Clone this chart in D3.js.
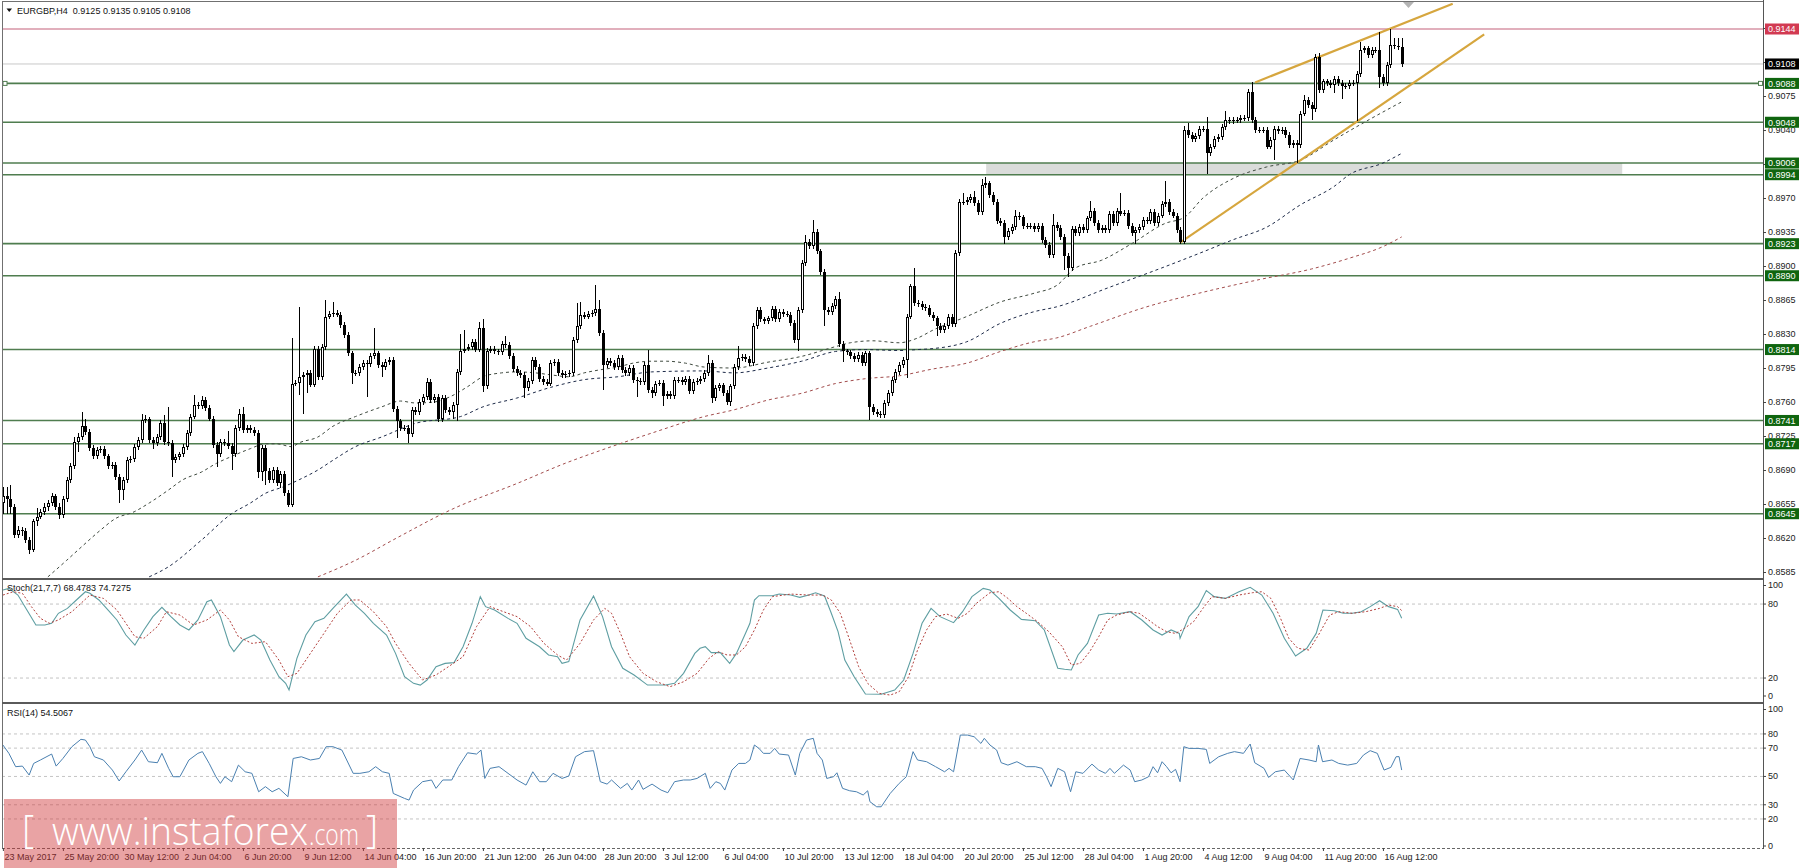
<!DOCTYPE html>
<html><head><meta charset="utf-8">
<script src="https://cdn.jsdelivr.net/npm/d3@7"></script>
<style>
html,body{margin:0;padding:0;background:#fff;overflow:hidden;}
svg{display:block;font-family:"Liberation Sans",Arial,sans-serif;}
</style></head><body>
<svg id="chart" width="1800" height="868"></svg>
<script>
// ===== DATA (prices in pips: 8663 = 0.8663) =====
const symbolTitle = "EURGBP,H4  0.9125 0.9135 0.9105 0.9108";
const firstOpen = 8656;
const closes = [
8663,8660,8652,8623,8628,8627,8618,8608,8637,8642,
8647,8652,8656,8663,8652,8644,8660,8680,8694,8719,
8724,8735,8729,8713,8704,8711,8712,8704,8694,8695,
8683,8669,8680,8700,8701,8714,8721,8741,8742,8721,
8718,8724,8738,8719,8718,8700,8703,8706,8714,8728,
8745,8757,8756,8762,8754,8743,8716,8706,8719,8718,
8715,8706,8733,8748,8731,8733,8731,8728,8688,8713,
8689,8680,8690,8677,8686,8666,8654,8779,8780,8786,
8788,8790,8778,8815,8786,8817,8848,8851,8852,8850,
8839,8829,8810,8790,
8790,8796,8800,8799,8807,8810,8798,8796,8801,8803,
8753,8740,8733,8733,8727,8752,8750,8760,8765,8781,
8762,8765,8742,8764,8752,8750,8757,8791,8813,8815,
8817,8822,8814,8836,8776,8813,8815,8812,8811,8820,
8819,8807,8794,8790,8788,8774,8782,8803,8796,8784,
8781,8779,8800,8801,8790,8788,8789,8790,8824,8838,
8850,8848,8851,8852,8856,8831,8798,8802,8800,8796,
8805,8793,8790,8795,8783,8782,8781,8798,8772,8769,
8779,8780,8766,8768,8766,8783,8783,8781,8784,8771,
8781,8782,8784,8790,
8800,8764,8774,8777,8769,8760,8776,8796,8805,8806,
8804,8800,8838,8855,8845,8843,8846,8856,8845,8853,
8851,8850,8841,8824,8855,8903,8925,8921,8935,8915,
8894,8855,8853,8859,8866,8820,8812,8811,8807,8804,
8808,8800,8810,8755,8750,8748,8747,8759,8769,8783,
8791,8798,8803,8848,8879,8862,8861,8858,8857,8850,
8846,8838,8834,8838,8848,8840,8913,8966,8966,8968,
8971,8965,8956,8983,8985,8973,8966,8946,8944,8930,
8936,8940,8951,8950,8941,8941,8941,8938,8941,8927,
8922,8911,
8942,8939,8930,8910,8898,8938,8934,8940,8937,8949,
8957,8944,8937,8939,8937,8954,8944,8957,8954,8955,
8941,8934,8937,8940,8947,8946,8956,8944,8952,8964,
8966,8956,8952,8937,8925,9040,9035,9031,9034,9041,
9041,9016,9023,9031,9033,9043,9050,9049,9050,9050,
9052,9052,9079,9050,9040,9040,9040,9023,9030,9041,
9039,9040,9035,9025,9027,9025,9057,9071,9066,9062,
9115,9081,9090,9088,9086,9093,9088,9085,9085,9088,
9088,9098,9122,9124,9117,9122,9122,9095,9088,9107,
9128,9126,9125,9108];
const wickUp = [
10,10,15,3,4,3,3,3,3,9, 3,4,3,3,2,4,3,3,3,5, 4,15,8,3,3,3,3,3,2,3, 3,3,3,3,3,3,3,7,5,3,
3,3,3,9,36,3,3,3,3,3, 3,10,3,4,3,3,3,3,3,3, 12,3,3,5,7,3,3,3,3,3, 3,3,3,3,3,3,3,47,3,72,
3,3,3,3,3,3,17,3,11,3, 3,3,3,3,
3,3,3,3,3,26,3,3,3,3, 3,3,3,3,3,3,3,3,3,4, 3,3,3,3,3,3,3,3,17,19, 3,3,3,6,9,3,3,3,3,3,
8,3,3,3,3,3,3,3,3,3, 3,3,3,3,3,3,3,3,3,24, 13,3,3,3,24,9,3,3,3,3, 3,3,3,3,3,3,3,3,16,3,
3,3,3,3,3,3,3,3,3,3, 3,3,3,3,
8,3,3,3,3,3,3,3,13,3, 3,3,3,3,3,3,3,3,3,3, 3,3,3,3,3,3,7,3,12,3, 3,3,3,3,3,7,3,3,3,3,
3,3,3,3,3,3,3,3,3,3, 3,3,3,3,3,19,3,3,3,3, 3,3,3,3,3,3,3,3,9,3, 3,6,3,7,7,3,3,3,3,3,
3,3,7,5,3,3,3,3,3,3, 3,3,
12,3,3,3,3,3,3,3,3,3, 10,3,3,3,3,3,3,3,18,3, 3,3,3,3,3,3,3,3,3,3, 22,3,3,3,3,4,7,3,3,3,
3,12,3,3,3,3,10,3,3,3, 3,3,3,10,3,3,3,3,3,3, 3,3,3,3,3,3,3,5,3,3, 3,4,3,3,3,3,3,3,3,3,
3,3,9,3,3,3,3,19,3,3, 16,7,9,10];
const wickDn = [
11,15,7,3,3,5,3,4,2,5, 2,3,4,3,3,4,3,3,3,3, 10,3,3,3,3,3,3,3,3,3, 3,13,10,3,3,3,3,3,3,3,
6,3,3,3,3,17,3,3,3,3, 3,3,3,3,3,3,3,13,3,3, 3,16,3,3,3,3,3,3,6,9, 14,3,3,3,6,3,2,2,3,13,
38,19,3,3,3,3,3,3,3,3, 3,3,3,11,
3,3,3,34,3,3,3,10,3,3, 3,17,3,3,9,3,3,3,3,3, 3,3,3,3,3,3,8,17,3,3, 3,3,3,3,6,3,3,3,3,3,
3,3,3,3,3,10,3,3,3,3, 3,3,3,3,3,3,3,3,3,3, 3,3,3,3,3,3,26,3,3,3, 3,3,3,3,3,17,3,3,3,5,
3,3,10,3,3,3,3,3,3,3, 3,3,3,3,
3,5,3,3,3,3,4,3,3,3, 3,3,3,3,3,3,3,3,3,3, 3,3,3,3,11,3,3,3,3,3, 3,17,3,3,3,3,11,3,3,3,
3,3,3,14,3,3,3,3,3,3, 3,3,3,18,3,3,3,3,3,3, 3,10,3,3,3,3,3,3,3,3, 3,3,3,3,3,3,3,3,3,7,
3,3,3,3,3,3,3,3,3,3, 3,3,
3,3,3,14,9,3,3,3,3,3, 3,3,3,3,3,3,3,3,3,3, 3,3,11,3,3,3,3,3,3,3, 3,3,3,3,2,2,3,3,3,3,
3,21,3,3,3,3,3,3,3,3, 3,3,3,3,3,3,3,3,3,21, 3,3,3,3,3,19,3,3,3,12, 3,3,3,3,3,8,3,13,3,3,
3,39,3,3,3,3,3,12,3,3, 3,3,3,3];

// moving averages: [bar, pips]
const maFast = [[12,8580],[17,8597],[21,8611],[26,8628],[30,8640],[35,8647],[39,8656],[44,8669],[48,8680],[53,8688],
[57,8697],[61,8704],[66,8712],[70,8717],[73,8717],[77,8714],[79,8718],[84,8724],[88,8735],[94,8745],
[101,8755],[106,8761],[110,8759],[115,8760],[119,8765],[124,8776],[128,8786],[133,8790],[137,8791],[142,8790],
[146,8788],[151,8786],[155,8790],[159,8793],[164,8796],[168,8800],[173,8802],[177,8802],[182,8800],[187,8796],
[195,8795],[204,8801],[213,8807],[222,8817],[226,8821],[232,8823],[239,8821],[244,8826],[248,8834],[257,8848],
[266,8863],[275,8872],[281,8880],[286,8898],[293,8906],[301,8923],[310,8944],[315,8950],[320,8970],[328,8990],
[337,9002],[346,9009],[355,9030],[364,9050],[373,9069]];
const maMid = [[39,8580],[44,8590],[53,8618],[61,8645],[66,8656],[70,8666],[75,8673],[79,8680],[84,8690],[88,8700],
[94,8714],[101,8724],[110,8738],[122,8745],[128,8755],[137,8764],[146,8775],[155,8783],[164,8786],[173,8791],
[187,8792],[195,8790],[204,8795],[213,8802],[222,8812],[230,8814],[239,8813],[244,8814],[248,8815],[257,8822],
[266,8841],[275,8853],[281,8858],[295,8878],[309,8898],[319,8913],[328,8927],[337,8940],[346,8963],[355,8982],
[359,8994],[368,9006],[373,9016]];
const maSlow = [[84,8580],[94,8597],[105,8620],[120,8650],[137,8676],[150,8697],[160,8711],[173,8728],[187,8745],[195,8752],
[204,8762],[213,8769],[222,8779],[230,8784],[239,8787],[248,8794],[257,8800],[266,8812],[275,8822],[281,8826],
[290,8838],[305,8858],[320,8873],[335,8886],[349,8897],[359,8908],[368,8920],[373,8930]];

const stochK = [[0,91.4],[1.6,92.7],[4,87.3],[6.4,75.2],[8.8,63],[11.2,63],[13,64.4],[14.8,72.5],[17.2,76.5],[19.6,83.3],[22,90],[23.2,88.7],[25.6,83.3],[28,75.2],[30.4,67.1],[32.8,54.9],[35.2,46.8],[37.6,59],[40,69.8],[42.4,77.3],[44.8,69.8],[47.2,63],[49.6,59],[52,67.1],[54.4,81.9],[55.6,83.3],[58,69.8],[60.4,46.8],[61.6,41.4],[64,50.8],[67,54.9],[68.8,50.8],[71.2,34.6],[73.6,21.1],[75.4,15.7],[76.3,10.3],[78.4,36],[80.8,54.9],[83.2,65.7],[85.6,68.4],[88,76.5],[91.6,88.1],[94,79.2],[96.4,72.5],[98.8,64.4],[102.3,54.9],[104.7,40],[107.1,21.1],[109.5,15.7],[111.3,14.3],[113.1,18.4],[115.5,29.2],[117.9,31.9],[120.3,32.5],[122.7,45.4],[125.1,64.4],[127.3,86],[128.7,77.9],[131.1,75.2],[134.7,68.4],[137.1,64.4],[139.5,52.2],[143.1,45.4],[145.5,38.7],[147.9,37.3],[149.1,31.9],[150.9,33.3],[153.9,67.1],[157.5,86.5],[159.9,69.8],[162.3,45.4],[165.3,27.9],[168.3,22.5],[171.9,14.3],[174.3,14.3],[176.7,14.3],[179.1,15.7],[181.5,23.8],[184.5,40],
[185.9,44.1],[187.3,45.4],[188.9,40.6],[191.3,40.6],[193.8,31.9],[195.6,40],[198,56.2],[199.2,64.4],[200.4,83.3],[201.6,86.8],[205.2,86.8],[207,88.1],[210.1,87.3],[212.5,85.4],[214.9,87.3],[216.7,89.2],[219.1,86.5],[220.9,72.5],[222.7,57.6],[224.5,34.6],[227,21.1],[230,7],[234.2,6.8],[237.8,10.3],[240.2,18.4],[242.7,40],[245.1,64.4],[247.5,76.5],[249.9,69.8],[253.5,64.9],[255.9,73.8],[258.4,86],[261.4,92.7],[263.2,91.4],[265.6,84.6],[268.6,75.2],[271.6,67.6],[275.3,66.5],[277.7,59],[281.3,27.9],[283.1,27.1],[284.9,26.5],[286.7,38.7],[289.2,48.1],[292.2,71.1],[294.6,72.5],[297,71.9],[300.6,73.8],[303.7,67.1],[306.7,59],[309.1,54.9],[311.5,59],[313.7,56.2],[313.9,52.2],[316.3,69.8],[318.7,77.9],[320.9,90.9],[323,86],[326,84.6],[329.6,90],[332.6,93.6],[335.7,87.3],[338.7,72.5],[341.7,52.2],[344.7,37.9],[347.7,44.1],[350.2,56.2],[352,75.2],[355,74.6],[357.4,72.5],[359.8,72.5],[362.2,73.8],[364.6,77.9],[367.1,82.7],[369.5,77.9],[371.9,75.7],[373,68.48]];
const stochD = [[0,87.3],[2.8,90],[5.2,88.7],[7.6,77.9],[10,68.4],[12.4,64.4],[14.8,67.1],[18.4,73.8],[23.2,87.3],[26.8,84.6],[30.4,75.2],[32.8,64.4],[35.2,53.5],[37.6,52.2],[41.2,61.7],[43.6,73.8],[47.2,71.1],[50.8,63],[54.4,67.1],[58,75.2],[60.4,67.1],[62.8,53.5],[66.4,48.1],[70,49.5],[73.6,34.6],[76,21.1],[78.4,23.8],[82,40],[85.6,56.2],[89.2,72.5],[92.8,83.3],[95.2,83.3],[98.8,73.8],[102.3,61.7],[104.7,48.1],[108.3,31.9],[111.9,18.4],[115.5,22.5],[119.1,29.8],[122.7,37.3],[126.3,61.7],[129.9,77.9],[133.5,73.8],[137.1,69.8],[140.7,61.7],[144.3,48.1],[147.9,38.7],[150.3,34.6],[153.9,48.1],[157.5,67.1],[160.5,76.5],[162.3,72.5],[164.7,56.2],[167.1,37.3],[170.7,23.8],[174.3,17],[177.9,13],[181.5,17],[185.1,23.8],
[188.3,36],[190.7,41.4],[193.1,38.7],[195.6,38.7],[198,45.4],[200.4,59],[202.8,75.2],[205.2,86],[210.1,88.1],[214.9,87.3],[218.5,87.3],[220.9,83.3],[223.3,72.5],[225.8,50.8],[228.2,29.2],[230.6,15.7],[233.6,7.6],[236.6,6.2],[239,8.9],[241.5,21.1],[243.9,42.7],[246.3,59],[248.7,69.8],[251.7,71.9],[254.7,68.4],[257.2,72.5],[259.6,80.6],[263.2,89.2],[265.6,90],[268,84.6],[270.4,77.9],[272.9,72.5],[275.9,65.7],[278.9,57.6],[282.5,45.4],[284.9,30.6],[287.3,31.9],[289.8,41.4],[292.2,53.5],[294.6,67.1],[297,71.1],[300.6,73.8],[303,72.5],[305.5,67.1],[307.9,61.7],[310.3,57.6],[312.7,56.2],[315.1,60.3],[317.5,65.7],[320,76.5],[322.4,86],[326,84.6],[329.6,87.3],[333.2,89.2],[335.7,90],[338.1,84.6],[340.5,69.8],[342.9,52.2],[345.3,44.1],[348.3,42.7],[350.8,54.9],[353.8,71.1],[356.2,73.8],[359.8,72.5],[363.4,73.8],[367.1,76.5],[369.5,79.2],[371.9,77.9],[373,74.73]];
const rsi = [[0,72.2],[1.6,66.3],[3.4,56.9],[5.2,57.3],[7,51],[8.2,59.2],[10,61.6],[13,65.8],[14.2,57.3],[16,62.7],[18.4,71],[20.8,76.2],[22,75.7],[23.2,71],[24.4,63.9],[26.8,61.6],[29.2,54.5],[31,46.8],[32.8,53.3],[35.2,61.6],[37,68.6],[38.8,60.4],[41.2,59.7],[42.4,66.3],[44.2,55.7],[45.4,49.8],[47.2,49.8],[49.6,61.6],[52,66.3],[53.2,67.5],[55,59.2],[56.8,49.8],[58,45.1],[59.2,49.8],[61,46.3],[62.8,58],[64.6,53.3],[66.4,52.2],[68.2,39.2],[70,42.8],[71.8,39.2],[73.6,41.6],[76,35.7],[77.4,62.7],[79.6,63.9],[82,61.6],[84.4,62.7],[86.2,71],[88,71],[90.4,68.6],[93.4,52.2],[95.2,52.2],[97.6,53.3],[99.4,56.9],[101.2,53.3],[103,52.2],[104.1,38],[107.1,34.5],[108.3,33.3],[109.5,40.4],[111.9,46.3],[114.3,47.5],[115.5,41.6],[117.3,47.5],[119.7,47.5],[121.5,56.9],[123.9,66.7],[126.3,65.8],[127.5,68.6],[128.5,48.6],[129.9,55.7],[132.3,56.9],[134.7,52.2],[137.1,47.5],[139.5,43.9],[141.3,53.3],[143.1,46.3],[144.9,46.3],[146.7,52.2],[149.1,48.6],[150.9,50.3],[152.7,63.9],[155.1,67.5],[157.5,68.2],[159.3,46.3],[161.1,44.6],[162.3,47.5],[164.7,41.6],[166.5,45.1],[167.7,40.4],[169.5,47.5],[170.7,40.9],[173.1,44.6],[175.5,40.4],[177.3,38.5],[179.1,46.3],[181.5,47.5],[183.3,47.5],[185.1,48.6],
[187.3,52.2],[188.6,41.6],[190.1,46.3],[191.3,45.1],[192.5,40.4],[194.4,54.5],[196.2,59.2],[198,59.2],[199.2,61.6],[200.4,72.2],[201.6,69.8],[202.8,66.3],[204.6,66.3],[205.8,69.8],[207,65.8],[209.5,65.1],[211.3,51],[212.5,66.3],[214.3,75.7],[216.1,76.9],[217.1,66.3],[218.5,61.6],[219.7,48.6],[221.5,49.8],[222.4,52.6],[223.9,41.6],[225.8,39.9],[227.6,39.2],[229.4,36.9],[230.6,39.9],[231.2,32.2],[233,28.6],[234.2,28.6],[236.6,38],[239,45.1],[240.9,49.8],[242.7,67.5],[243.9,61.6],[246.3,60.4],[248.7,56.9],[251.1,53.3],[252.3,55.7],[253.5,53.3],[255.3,79.2],[257.2,79.2],[259,78],[260.8,73.3],[261.7,76.9],[263.2,72.2],[265,68.6],[266.2,59.7],[268,58],[270.4,60.4],[272.9,56.9],[275.3,56.9],[277.1,55.7],[278.3,49.8],[279.5,42.8],[281.3,55.7],[283.1,53.3],[284.7,39.2],[286.1,53.3],[288,52.2],[290.4,58.7],[292.2,54.5],[294,52.2],[295.2,55.7],[296.4,52.2],[298.8,58],[300.6,54.5],[301.8,46.3],[303.7,47.5],[305.5,49.8],[306.7,56.9],[307.9,52.6],[309.1,60.4],[310.3,56.9],[311.5,52.6],[312.7,55],[313.9,46.3],[314.9,71],[316.3,69.8],[318.7,69.8],[320.9,69.1],[321.8,59.2],[324.2,63.9],[326.6,66.3],[328.4,67.5],[330.8,66.3],[332.6,72.9],[333.8,59.7],[336.3,55.7],[337.5,49.3],[339.3,53.3],[341.7,54.5],[344.1,47.5],[345.9,62.7],[348.3,61.6],[350.2,60.4],[350.8,72.2],[351.9,60.4],[354.4,61.6],[356.2,59.2],[358.6,58],[361,59.2],[362.8,65.1],[364.6,68.2],[366.5,66.3],[368.3,54.5],[370.1,56.4],[371.5,63.9],[372.3,64],[373,54.51]];

const xLabelBars = [0,16,32,48,64,80,96,112,128,144,160,176,192,208,224,240,256,272,288,304,320,336,352,368];
const xLabels = ["23 May 2017","25 May 20:00","30 May 12:00","2 Jun 04:00","6 Jun 20:00","9 Jun 12:00","14 Jun 04:00","16 Jun 20:00","21 Jun 12:00","26 Jun 04:00","28 Jun 20:00","3 Jul 12:00","6 Jul 04:00","10 Jul 20:00","13 Jul 12:00","18 Jul 04:00","20 Jul 20:00","25 Jul 12:00","28 Jul 04:00","1 Aug 20:00","4 Aug 12:00","9 Aug 04:00","11 Aug 20:00","16 Aug 12:00"];
const priceTicks = [0.8585,0.8620,0.8655,0.8690,0.8725,0.8760,0.8795,0.8830,0.8865,0.8900,0.8935,0.8970,0.9005,0.9040,0.9075,0.9110,0.9145];
const greenLevels = [0.9088,0.9048,0.9006,0.8994,0.8923,0.8890,0.8814,0.8741,0.8717,0.8645];
const highLevel = 0.9144;
const bidLevel = 0.9108;
const zone = {bar0:262.2, bar1:431.8, p0:0.8994, p1:0.9006};
const channelUpper = [[333.9,0.9089],[386.6,0.9170]];
const channelLower = [[313.9,0.8924],[395.0,0.91385]];
const stochLevels = [20,80];
const stochAxisVals = [0,20,80,100];
const rsiLevels = [20,30,50,70,80];
const rsiAxisVals = [0,20,30,50,70,80,100];
const stochTitle = "Stoch(21,7,7) 68.4783 74.7275";
const rsiTitle = "RSI(14) 54.5067";

// ===== LAYOUT =====
const svg = d3.select("#chart");
const L = 2, R = 1763;
const mainTop = 2, mainBot = 578, stTop = 580, stBot = 702, rsTop = 704, rsBot = 848;
const x = d3.scaleLinear().domain([0,373]).range([2.9,1401.7]);
const yP = d3.scaleLinear().domain([0.8585,0.9144]).range([572,29]);
const yS = d3.scaleLinear().domain([0,100]).range([702.7,579.4]);
const yR = d3.scaleLinear().domain([0,100]).range([847.3,705.6]);
const pip = v => v/10000;

const defs = svg.append("defs");
[["cMain",mainTop,mainBot],["cSt",stTop,stBot],["cRs",rsTop,rsBot]].forEach(([id,t,b])=>{
  defs.append("clipPath").attr("id",id).append("rect").attr("x",L).attr("y",t).attr("width",R-L).attr("height",b-t);
});

// ---- main panel ----
const gm = svg.append("g").attr("clip-path","url(#cMain)");
gm.append("rect").attr("x",x(zone.bar0)).attr("y",yP(zone.p1)).attr("width",x(zone.bar1)-x(zone.bar0))
  .attr("height",yP(zone.p0)-yP(zone.p1)).attr("fill","#dadcda");
gm.selectAll("line.lvl").data(greenLevels).join("line").attr("class","lvl")
  .attr("x1",L).attr("x2",R).attr("y1",d=>yP(d)).attr("y2",d=>yP(d))
  .attr("stroke","#4f7d4f").attr("stroke-width",1.6);
gm.append("line").attr("x1",L).attr("x2",R).attr("y1",yP(highLevel)).attr("y2",yP(highLevel)).attr("stroke","#c4607a").attr("stroke-width",1.2);
gm.append("line").attr("x1",L).attr("x2",R).attr("y1",yP(bidLevel)).attr("y2",yP(bidLevel)).attr("stroke","#c8c8c8").attr("stroke-width",1);

const maLine = d3.line().x(d=>x(d[0])).y(d=>yP(pip(d[1]))).curve(d3.curveMonotoneX);
[[maFast,"#3f4a3f"],[maMid,"#1d2a48"],[maSlow,"#a24c4c"]].forEach(([arr,col])=>{
  gm.append("path").attr("d",maLine(arr)).attr("fill","none").attr("stroke",col).attr("stroke-width",1).attr("stroke-dasharray","3,3");
});

const chLine = d3.line().x(d=>x(d[0])).y(d=>yP(d[1]));
[channelUpper,channelLower].forEach(c=>{
  gm.append("path").attr("d",chLine(c)).attr("fill","none").attr("stroke","#d6a63e").attr("stroke-width",2.2);
});

const candles = closes.map((c,i)=>{
  const o = i===0 ? firstOpen : closes[i-1];
  return {i,o,c,h:Math.max(o,c)+wickUp[i],l:Math.min(o,c)-wickDn[i]};
});
const cg = gm.append("g").attr("shape-rendering","crispEdges");
cg.selectAll("line.wick").data(candles).join("line").attr("class","wick")
  .attr("x1",d=>Math.round(x(d.i))+0.5).attr("x2",d=>Math.round(x(d.i))+0.5)
  .attr("y1",d=>yP(pip(d.h))).attr("y2",d=>yP(pip(d.l))).attr("stroke","#000").attr("stroke-width",1);
const bTop = d=>Math.round(yP(pip(Math.max(d.o,d.c))));
const bH = d=>Math.max(1,Math.round(yP(pip(Math.min(d.o,d.c))))-bTop(d));
cg.selectAll("rect.body").data(candles).join("rect").attr("class","body")
  .attr("x",d=>Math.round(x(d.i))-1).attr("width",3).attr("y",bTop).attr("height",bH).attr("fill","#000");
cg.selectAll("rect.inner").data(candles.filter(d=>d.c>d.o && bH(d)>=3)).join("rect").attr("class","inner")
  .attr("x",d=>Math.round(x(d.i))).attr("width",1).attr("y",d=>bTop(d)+1).attr("height",d=>bH(d)-2).attr("fill","#fff");

// anchors on the 0.9088 line
[5,1760.5].forEach(cx=>{
  svg.append("rect").attr("x",cx-2).attr("y",yP(0.9088)-2).attr("width",4).attr("height",4)
    .attr("fill","#fff").attr("stroke","#4f7d4f").attr("stroke-width",1);
});
// shift marker
svg.append("polygon").attr("points","1403,2 1414,2 1408.5,8").attr("fill","#b4b4b4");

// ---- stochastic panel ----
const gs = svg.append("g").attr("clip-path","url(#cSt)");
gs.selectAll("line.sl").data(stochLevels).join("line").attr("x1",L).attr("x2",R)
  .attr("y1",d=>yS(d)).attr("y2",d=>yS(d)).attr("stroke","#c4c4c4").attr("stroke-dasharray","3,3");
const sLine = d3.line().x(d=>x(d[0])).y(d=>yS(d[1]));
gs.append("path").attr("d",sLine(stochK)).attr("fill","none").attr("stroke","#5e9ea2").attr("stroke-width",1.1);
gs.append("path").attr("d",sLine(stochD)).attr("fill","none").attr("stroke","#b2403c").attr("stroke-width",1).attr("stroke-dasharray","2,2");

// ---- RSI panel ----
const gr = svg.append("g").attr("clip-path","url(#cRs)");
gr.selectAll("line.rl").data(rsiLevels).join("line").attr("x1",L).attr("x2",R)
  .attr("y1",d=>yR(d)).attr("y2",d=>yR(d)).attr("stroke","#c4c4c4").attr("stroke-dasharray","3,3");
const rLine = d3.line().x(d=>x(d[0])).y(d=>yR(d[1]));
gr.append("path").attr("d",rLine(rsi)).attr("fill","none").attr("stroke","#4a80b0").attr("stroke-width",1);

// ---- frame ----
const fr = svg.append("g").attr("shape-rendering","crispEdges");
fr.append("line").attr("x1",L).attr("x2",R).attr("y1",1.5).attr("y2",1.5).attr("stroke","#707070");
fr.append("line").attr("x1",L+0.5).attr("x2",L+0.5).attr("y1",1).attr("y2",rsBot).attr("stroke","#707070");
fr.append("line").attr("x1",R+0.5).attr("x2",R+0.5).attr("y1",0).attr("y2",rsBot+1).attr("stroke","#555");
fr.append("rect").attr("x",L).attr("y",578).attr("width",R-L).attr("height",2).attr("fill","#5a5a5a");
fr.append("rect").attr("x",L).attr("y",702).attr("width",R-L).attr("height",2).attr("fill","#5a5a5a");
fr.append("line").attr("x1",L).attr("x2",R).attr("y1",rsBot+0.5).attr("y2",rsBot+0.5).attr("stroke","#666").attr("stroke-dasharray","3,2");

// ---- axes ----
const fontSz = 9;
const pa = svg.append("g").attr("transform",`translate(${R},0)`)
  .call(d3.axisRight(yP).tickValues(priceTicks).tickFormat(d3.format(".4f")).tickSize(3).tickPadding(2));
pa.select(".domain").remove();
pa.selectAll("text").attr("font-size",fontSz).attr("font-family","Liberation Sans, Arial, sans-serif").attr("fill","#222");
pa.selectAll("line").attr("stroke","#444");

function indAxis(scale, vals, top, bot, lowPad){
  const g = svg.append("g").attr("transform",`translate(${R},0)`)
    .call(d3.axisRight(scale).tickValues(vals).tickFormat(d3.format("d")).tickSize(3).tickPadding(2));
  g.select(".domain").remove();
  g.selectAll(".tick").attr("transform",d=>`translate(0,${Math.max(top+5.5,Math.min(bot-lowPad,scale(d)))})`);
  g.selectAll("text").attr("font-size",fontSz).attr("font-family","Liberation Sans, Arial, sans-serif").attr("fill","#222");
  g.selectAll("line").attr("stroke","#444");
}
indAxis(yS, stochAxisVals, stTop, stBot, 6);
indAxis(yR, rsiAxisVals, rsTop, rsBot, 2);

// level boxes on the price axis
function priceBox(p, fill){
  const yy = yP(p);
  svg.append("rect").attr("x",R+2).attr("y",yy-5.5).attr("width",34).attr("height",11).attr("fill",fill);
  svg.append("text").attr("x",R+5).attr("y",yy+3.3).attr("font-size",fontSz).attr("fill","#fff").text(p.toFixed(4));
}
greenLevels.forEach(p=>priceBox(p,"#0f650f"));
priceBox(highLevel,"#d23a52");
priceBox(bidLevel,"#000");

// time axis
const xa = svg.append("g").attr("transform",`translate(0,${rsBot})`)
  .call(d3.axisBottom(x).tickValues(xLabelBars).tickFormat((d,i)=>xLabels[i]).tickSize(3).tickPadding(3));
xa.select(".domain").remove();
xa.selectAll("text").attr("text-anchor","start").attr("x",1).attr("font-size",fontSz)
  .attr("font-family","Liberation Sans, Arial, sans-serif").attr("fill","#222");
xa.selectAll("line").attr("stroke","#444");

// titles
svg.append("polygon").attr("points","6.5,8.5 12,8.5 9.25,12").attr("fill","#111");
svg.append("text").attr("x",17).attr("y",14).attr("font-size",fontSz).attr("fill","#111")
  .attr("xml:space","preserve").style("white-space","pre").text(symbolTitle);
svg.append("text").attr("x",7).attr("y",590.5).attr("font-size",fontSz).attr("fill","#111").text(stochTitle);
svg.append("text").attr("x",7).attr("y",716).attr("font-size",fontSz).attr("fill","#111").text(rsiTitle);

// watermark
const wm = svg.append("g");
wm.append("rect").attr("x",4).attr("y",799).attr("width",393).attr("height",69).attr("fill","rgba(206,51,53,0.45)");
const wf = "'Open Sans', 'DejaVu Sans', sans-serif";
wm.append("text").attr("x",22).attr("y",843).attr("font-family",wf).attr("font-weight",300).attr("font-size",38).attr("fill","#fff").text("[");
wm.append("text").attr("x",52).attr("y",845).attr("font-family",wf).attr("font-weight",300).attr("font-size",38)
  .attr("textLength",256).attr("lengthAdjust","spacingAndGlyphs").attr("fill","#fff").text("www.instaforex");
wm.append("text").attr("x",309).attr("y",845).attr("font-family",wf).attr("font-weight",300).attr("font-size",29)
  .attr("textLength",50).attr("lengthAdjust","spacingAndGlyphs").attr("fill","#fff").text(".com");
wm.append("text").attr("x",366).attr("y",843).attr("font-family",wf).attr("font-weight",300).attr("font-size",38).attr("fill","#fff").text("]");
</script>
</body></html>
